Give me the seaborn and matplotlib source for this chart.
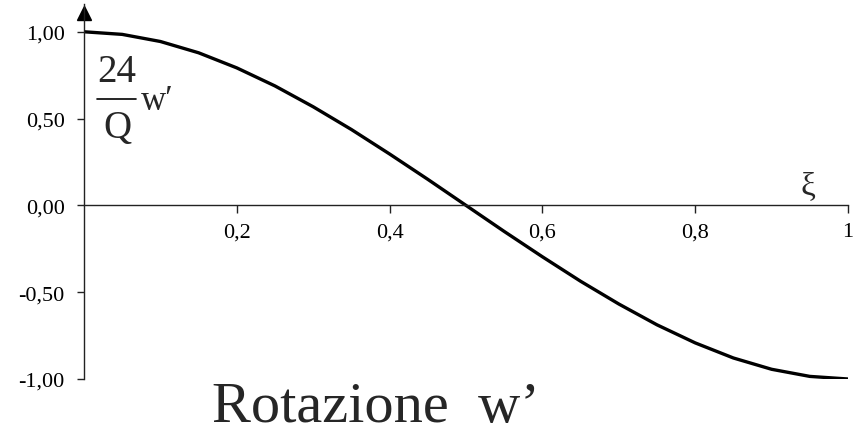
import matplotlib
matplotlib.use("Agg")
import matplotlib.pyplot as plt
import seaborn as sns
import pandas as pd

# Dimensionless rotation 24/Q * w' along the beam axis xi
xi = [0.00, 0.05, 0.10, 0.15, 0.20, 0.25, 0.30, 0.35, 0.40, 0.45, 0.50,
      0.55, 0.60, 0.65, 0.70, 0.75, 0.80, 0.85, 0.90, 0.95, 1.00]
rotation = [1.00, 0.985, 0.944, 0.879, 0.792, 0.688, 0.568, 0.437, 0.296, 0.150, 0.00,
            -0.150, -0.296, -0.437, -0.568, -0.688, -0.792, -0.879, -0.944, -0.985, -1.00]

y_ticks = [-1.0, -0.5, 0.0, 0.5, 1.0]
y_tick_labels = ["-1,00", "-0,50", "0,00", "0,50", "1,00"]
x_ticks = [0.2, 0.4, 0.6, 0.8, 1.0]
x_tick_labels = ["0,2", "0,4", "0,6", "0,8", "1"]

df = pd.DataFrame({"xi": xi, "rot": rotation})

sns.set_style("ticks")
plt.rcParams["font.family"] = ["Liberation Serif", "DejaVu Serif"]

W, H = 860, 431
fig = plt.figure(figsize=(W / 100, H / 100), dpi=100)
ax = fig.add_axes([84 / W, (H - 380) / H, (848 - 84) / W, 375 / H])

sns.lineplot(data=df, x="xi", y="rot", ax=ax, color="black", linewidth=2.4)

ax.set_xlim(0, 1)
ax.set_ylim(-1.0, 1.16)

for s in ("top", "right"):
    ax.spines[s].set_visible(False)
ax.spines["bottom"].set_position(("data", 0))
ax.spines["left"].set_bounds(-1.0, 1.16)
for s in ("left", "bottom"):
    ax.spines[s].set_color("#222222")
    ax.spines[s].set_linewidth(1.0)

ax.set_yticks(y_ticks)
ax.set_yticklabels(y_tick_labels)
ax.set_xticks(x_ticks)
ax.set_xticklabels(x_tick_labels)
ax.tick_params(axis="y", direction="out", length=5, width=1, pad=9,
               labelsize=16, colors="#222222", labelcolor="black")
ax.tick_params(axis="x", direction="out", length=6, width=1, pad=6,
               labelsize=16, colors="#222222", labelcolor="black")
ax.set_xlabel("")
ax.set_ylabel("")

# arrow head on the vertical axis
ax.plot(0, 0.976, marker="^", markersize=10, color="black",
        transform=ax.get_xaxis_transform(), clip_on=False)

# axis names
fig.text(117 / W, 1 - 72 / H, "24", fontsize=28, ha="center", va="center")
fig.add_artist(plt.Line2D([97 / W, 136 / W], [1 - 100 / H, 1 - 100 / H],
                          transform=fig.transFigure, color="black", lw=1.2))
fig.text(117 / W, 1 - 129 / H, "Q", fontsize=28, ha="center", va="center")
fig.text(141 / W, 1 - 101 / H, "w\u2032", fontsize=25, ha="left", va="center")
fig.text(808 / W, 1 - 187 / H, "\u03be", fontsize=24, ha="center", va="center")

# caption
fig.text(376 / W, 1 - 422 / H, "Rotazione  w\u2019", fontsize=42,
         ha="center", va="baseline")

fig.savefig("out.png", dpi=100)
